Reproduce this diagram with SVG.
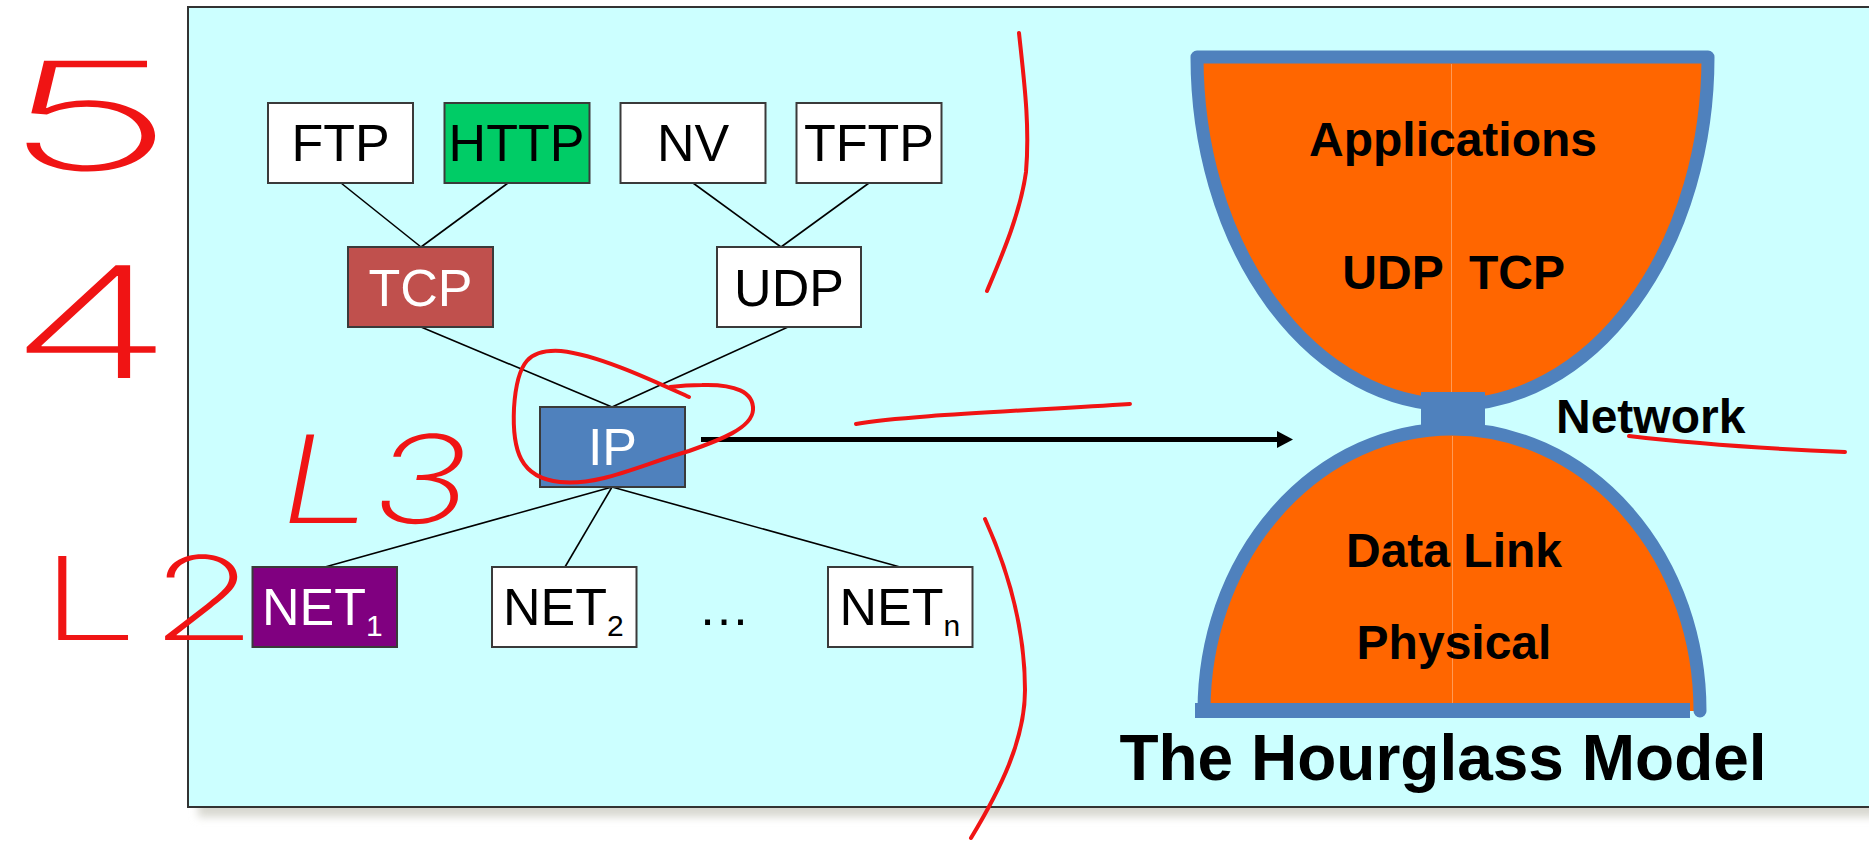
<svg xmlns="http://www.w3.org/2000/svg" width="1869" height="841" viewBox="0 0 1869 841">
<style>
.box{stroke:#3a3a3a;stroke-width:2}
.lbl{font-family:"Liberation Sans",Arial,sans-serif;font-size:52px;text-anchor:middle}
.sub{font-family:"Liberation Sans",Arial,sans-serif;font-size:52px}
.hg{font-family:"Liberation Sans",Arial,sans-serif;font-weight:bold;font-size:48px;fill:#000}
.title{font-family:"Liberation Sans",Arial,sans-serif;font-weight:bold;font-size:64px;fill:#000}
.conn{stroke:#000;stroke-width:1.6;fill:none}
.ink{stroke:#F01414;stroke-width:4;fill:none;stroke-linecap:round;stroke-linejoin:round}
.hand{font-family:Inter,"DejaVu Sans",sans-serif;font-weight:200;fill:#F01414}
.blue{fill:#4F81BD}
.orange{fill:#FF6600}
</style>
<defs>
<filter id="sh" x="-5%" y="-5%" width="110%" height="120%"><feGaussianBlur stdDeviation="4"/></filter>
</defs>
<rect width="1869" height="841" fill="#fff"/>
<rect x="198" y="17" width="1700" height="800" fill="#D8D8D0" filter="url(#sh)"/>
<rect id="frame" x="188" y="7" width="1700" height="800" fill="#CCFFFF" stroke="#333" stroke-width="2"/>

<g id="connectors">
<line class="conn" x1="341" y1="183" x2="421" y2="247"/>
<line class="conn" x1="508" y1="183" x2="421" y2="247"/>
<line class="conn" x1="693" y1="183" x2="781" y2="247"/>
<line class="conn" x1="869" y1="183" x2="781" y2="247"/>
<line class="conn" x1="421" y1="327" x2="612" y2="407"/>
<line class="conn" x1="788" y1="327" x2="612" y2="407"/>
<line class="conn" x1="612" y1="487" x2="325" y2="567"/>
<line class="conn" x1="612" y1="487" x2="565" y2="567"/>
<line class="conn" x1="612" y1="487" x2="900" y2="567"/>
<line x1="701" y1="439.5" x2="1280" y2="439.5" stroke="#000" stroke-width="5"/>
<polygon points="1277,431 1293,439.5 1277,448" fill="#000"/>
</g>

<g id="n-ftp"><rect class="box" x="268" y="103" width="145" height="80" fill="#fff"/><text class="lbl" x="340.5" y="161">FTP</text></g>
<g id="n-http"><rect class="box" x="444.5" y="103" width="145" height="80" fill="#00CC66"/><text class="lbl" x="516.5" y="161">HTTP</text></g>
<g id="n-nv"><rect class="box" x="620.5" y="103" width="145" height="80" fill="#fff"/><text class="lbl" x="693" y="161">NV</text></g>
<g id="n-tftp"><rect class="box" x="796.5" y="103" width="145" height="80" fill="#fff"/><text class="lbl" x="869" y="161">TFTP</text></g>
<g id="n-tcp"><rect class="box" x="348" y="247" width="145" height="80" fill="#C0504D"/><text class="lbl" x="420.5" y="306" fill="#fff">TCP</text></g>
<g id="n-udp"><rect class="box" x="717" y="247" width="144" height="80" fill="#fff"/><text class="lbl" x="789" y="306">UDP</text></g>
<g id="n-ip"><rect class="box" x="540" y="407" width="145" height="80" fill="#4F81BD"/><text class="lbl" x="612.5" y="465" fill="#fff">IP</text></g>
<g id="n-net1"><rect class="box" x="252.5" y="567" width="144.5" height="80" fill="#800080"/><text class="sub" x="262" y="625" fill="#fff">NET<tspan font-size="30" dy="11">1</tspan></text></g>
<g id="n-net2"><rect class="box" x="492" y="567" width="144.5" height="80" fill="#fff"/><text class="sub" x="503" y="625">NET<tspan font-size="30" dy="11">2</tspan></text></g>
<g id="n-dots"><text class="lbl" x="724" y="625">…</text></g>
<g id="n-netn"><rect class="box" x="828" y="567" width="144.5" height="80" fill="#fff"/><text class="sub" x="839.5" y="625">NET<tspan font-size="30" dy="11">n</tspan></text></g>

<g id="hourglass">
<path class="orange" d="M1197,57 L1708,57 A255.5,348 0 0 1 1197,57 Z" stroke="#4F81BD" stroke-width="13" stroke-linejoin="round"/>
<path class="orange" d="M1204,711 A248,282 0 0 1 1700,711 Z"/>
<line x1="1451.5" y1="64" x2="1451.5" y2="392" stroke="#FF9A55" stroke-width="1"/>
<line x1="1452.5" y1="436" x2="1452.5" y2="703" stroke="#FF9A55" stroke-width="1"/>
<path d="M1204,711 A248,282 0 0 1 1700,711" fill="none" stroke="#4F81BD" stroke-width="13" stroke-linecap="round"/>
<rect class="blue" x="1421" y="392" width="64" height="35"/>
<rect class="blue" x="1195" y="703" width="495" height="15"/>
<text class="hg" x="1453" y="156" text-anchor="middle">Applications</text>
<text class="hg" x="1393" y="289" text-anchor="middle">UDP</text>
<text class="hg" x="1517" y="289" text-anchor="middle">TCP</text>
<text class="hg" x="1556" y="433">Network</text>
<text class="hg" x="1454" y="567" text-anchor="middle">Data Link</text>
<text class="hg" x="1454" y="659" text-anchor="middle">Physical</text>
<text class="title" x="1443" y="780" text-anchor="middle">The Hourglass Model</text>
</g>

<g id="annotations">
<text class="hand" transform="translate(2,170) scale(2.0,1)" font-size="150">5</text>
<text class="hand" transform="translate(8,378) scale(1.75,1)" font-size="155">4</text>
<text class="hand" transform="translate(272,523) scale(1.3,0.95) skewX(-8)" font-size="128">L3</text>
<text class="hand" transform="translate(40,640) scale(1.5,1)" font-size="116" letter-spacing="8">L2</text>
<path class="ink" d="M689,397 C660,384 600,355 561,351 C530,349 517,360 514,408 C512,450 520,478 560,482 C600,486 640,465 689,451 C720,440 752,428 753,410 C754,392 735,384 702,385 C690,385 678,386 670,387"/>
<path class="ink" d="M1019,33 C1024,80 1030,125 1026,172 C1020,215 1000,260 987,291"/>
<path class="ink" d="M985,519 C1008,570 1025,630 1025,690 C1025,740 1000,790 971,838"/>
<path class="ink" d="M856,424 C900,416 1000,412 1130,404"/>
<path class="ink" d="M1629,436 C1680,442 1750,448 1845,452"/>
</g>
</svg>
